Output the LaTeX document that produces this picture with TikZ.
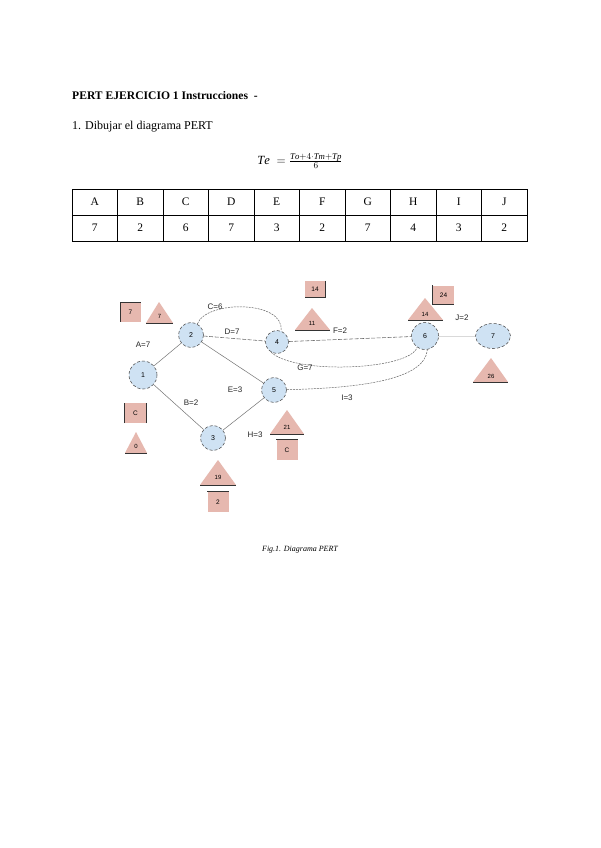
\documentclass[tikz,border=0pt]{standalone}
\usepackage{fontspec}
\setmainfont{Liberation Serif}
\setsansfont{Liberation Sans}
\usetikzlibrary{shapes.geometric}
\begin{document}
\begin{tikzpicture}[x=1pt,y=-1pt,
  evt/.style={circle,draw=black!70,densely dashed,line width=0.55pt,fill=nodeblue,minimum size=25pt,inner sep=0pt,font=\sffamily\fontsize{7}{8}\selectfont},
  lbl/.style={font=\sffamily\fontsize{8}{9}\selectfont,text=black!85,inner sep=0pt},
  solidedge/.style={draw=black!55,line width=0.5pt},
  dashedge/.style={draw=black!60,line width=0.55pt,dash pattern=on 4pt off 1.5pt},
  dotedge/.style={draw=black!60,line width=0.5pt,dash pattern=on 2pt off 1pt},
  pbox/.style={rectangle,fill=pinkbox,minimum width=20pt,minimum height=19pt,inner sep=0pt,font=\sffamily\fontsize{6.5}{7}\selectfont},
  ptri/.style={fill=pinkbox},
  ttxt/.style={font=\sffamily\fontsize{6}{7}\selectfont,inner sep=0pt},
  dark/.style={draw=black!80,line width=0.8pt},
  cell/.style={font=\fontsize{11.5}{13}\selectfont,inner sep=0pt}
]
\definecolor{nodeblue}{HTML}{CFE2F3}
\definecolor{pinkbox}{HTML}{E6B8AF}
\fill[white] (0,0) rectangle (600,848);
\useasboundingbox (0,0) rectangle (600,848);

% header text
\node[anchor=base west,inner sep=0pt,font=\bfseries\fontsize{11.6}{13}\selectfont] (title) at (72,100) {PERT EJERCICIO 1 Instrucciones\ \ -};
\node[anchor=base west,inner sep=0pt,font=\fontsize{12}{14}\selectfont] (step1) at (72,129) {1. Dibujar el diagrama PERT};
\node[inner sep=0pt,font=\fontsize{12.5}{15}\selectfont] (formula) at (300,161) {$\mathit{Te}\;=\frac{\mathit{To}+4\cdot \mathit{Tm}+\mathit{Tp}}{6}$};

% table
\draw[line width=0.7pt] (72,189) rectangle (527,241);
\draw[line width=0.7pt] (72,215) -- (527,215);
\foreach \i in {1,...,9} {
  \draw[line width=0.7pt] ({72+45.5*\i},189) -- ({72+45.5*\i},241);
}
\foreach \l [count=\i] in {A,B,C,D,E,F,G,H,I,J} {
  \node[cell] (h\i) at ({72+45.5*(\i-0.5)},202) {\l};
}
\foreach \v [count=\i] in {7,2,6,7,3,2,7,4,3,2} {
  \node[cell] (v\i) at ({72+45.5*(\i-0.5)},228) {\v};
}

% events
\node[evt,minimum width=28pt] (n1) at (143,375) {1};
\node[evt] (n2) at (191,335) {2};
\node[evt] (n3) at (213,438) {3};
\node[evt,minimum size=23pt] (n4) at (277,342) {4};
\node[evt] (n5) at (274,390) {5};
\node[evt,minimum size=27pt] (n6) at (425,336) {6};
\node[evt,ellipse,minimum width=35pt,minimum height=25pt] (n7) at (493,336) {7};

% activities
\draw[solidedge] (n1) -- (n2);
\draw[solidedge] (n1) -- (n3);
\draw[solidedge] (n2) -- (n5);
\draw[solidedge] (n3) -- (n5);
\draw[dashedge] (n2) -- (n4);
\draw[dotedge] (n2.60) .. controls (206,300) and (285,300) .. (n4.70);
\draw[dashedge] (n4) -- (n6);
\draw[dotedge] (n4.-120) .. controls (295,375) and (410,370) .. (n6.-125);
\draw[dotedge] (n5) .. controls (360,388) and (425,380) .. (n6.-80);
\draw[draw=black!15,line width=0.5pt] (n6) -- (n7);

% activity labels
\node[lbl] (lA) at (143,345) {A=7};
\node[lbl] (lB) at (191,403) {B=2};
\node[lbl] (lC) at (215,307) {C=6};
\node[lbl] (lD) at (232,332) {D=7};
\node[lbl] (lE) at (235,390) {E=3};
\node[lbl] (lF) at (340,331) {F=2};
\node[lbl] (lG) at (305,368) {G=7};
\node[lbl] (lH) at (255,435) {H=3};
\node[lbl] (lI) at (347,398) {I=3};
\node[lbl] (lJ) at (462,318) {J=2};

% boxes
\node[pbox] (b1) at (130.5,312) {7};
\draw[dark] (b1.south west) -- (b1.north west) -- (b1.north east);
\node[pbox,minimum width=21pt,minimum height=20pt] (b2) at (135.5,413) {C};
\draw[dark] (b2.south west) -- (b2.north west);
\draw[dark] (b2.south east) -- (b2.north east);
\node[pbox,minimum width=21pt,minimum height=20pt] (b3) at (218,502) {2};
\draw[dark] (b3.north west) -- (b3.north east);
\node[pbox,minimum width=21pt,minimum height=20pt] (b4) at (287,450) {C};
\draw[dark] (b4.north west) -- (b4.north east);
\node[pbox,minimum width=20pt,minimum height=16pt] (b5) at (315,289) {14};
\draw[dark] (b5.north east) -- (b5.south east) -- (b5.south west);
\node[pbox,minimum width=21pt,minimum height=19pt] (b6) at (443.5,295) {24};
\draw[dark] (b6.north west) -- (b6.south west) -- (b6.south east);

% triangles (apex, base left, base right)
\fill[ptri] (159,302) -- (146,323) -- (173,323) -- cycle;
\draw[dark] (146,323) -- (173,323);
\node[ttxt] (t1) at (159.5,316) {7};
\fill[ptri] (136,432) -- (125,453) -- (147,453) -- cycle;
\draw[dark] (125,453) -- (147,453);
\node[ttxt] (t2) at (136,446) {0};
\fill[ptri] (218,460) -- (200,485) -- (236,485) -- cycle;
\draw[dark] (200,485) -- (236,485);
\node[ttxt] (t3) at (218,477) {19};
\fill[ptri] (287,410) -- (270,434) -- (304,434) -- cycle;
\draw[dark] (270,434) -- (304,434);
\node[ttxt] (t4) at (287,427) {21};
\fill[ptri] (312,308) -- (295,330) -- (330,330) -- cycle;
\draw[dark] (295,330) -- (330,330);
\node[ttxt] (t5) at (312,323) {11};
\fill[ptri] (425,298) -- (408,320) -- (443,320) -- cycle;
\draw[dark] (408,320) -- (443,320);
\node[ttxt] (t6) at (425,314) {14};
\fill[ptri] (491,358) -- (473,382) -- (508,382) -- cycle;
\draw[dark] (473,382) -- (508,382);
\node[ttxt] (t7) at (491,376) {26};

% caption
\node[inner sep=0pt,font=\itshape\fontsize{8}{9}\selectfont] (cap) at (300,550) {Fig.1. Diagrama PERT};
\end{tikzpicture}
\end{document}
